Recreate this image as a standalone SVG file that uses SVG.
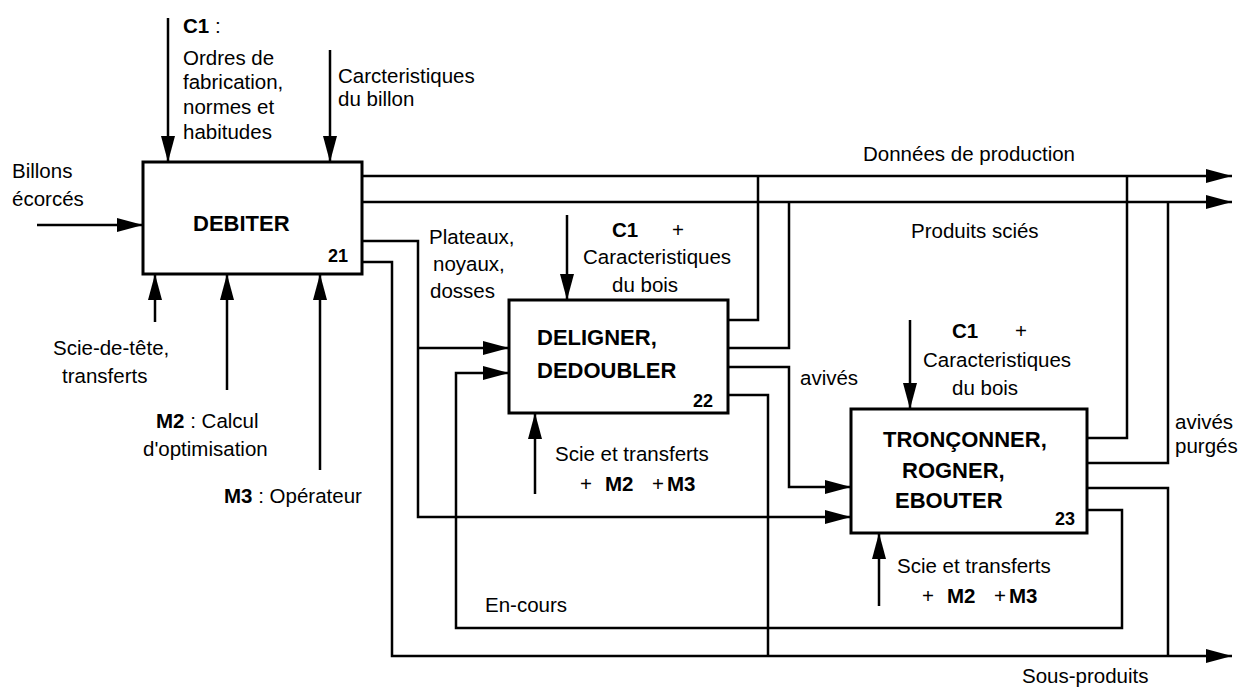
<svg xmlns="http://www.w3.org/2000/svg" width="1251" height="689" viewBox="0 0 1251 689">
<style>
.box{fill:#fff;stroke:#000;stroke-width:3}
.ln{fill:none;stroke:#000;stroke-width:2.5}
text{font-family:"Liberation Sans",Arial,sans-serif;font-size:20.5px;fill:#000}
.b{font-weight:bold}
.t{font-weight:bold;font-size:22px}
.n{font-weight:bold;font-size:18px}
</style>
<defs>
<marker id="ah" markerUnits="userSpaceOnUse" markerWidth="26" markerHeight="14" refX="26" refY="7" orient="auto">
<path d="M0,0 L26,7 L0,14 z" fill="#000"/>
</marker>
</defs>
<rect width="1251" height="689" fill="#fff"/>
<g id="connectors">
<path class="ln" d="M168,18 V162" marker-end="url(#ah)"/>
<path class="ln" d="M330,50 V162" marker-end="url(#ah)"/>
<path class="ln" d="M37,225 H143" marker-end="url(#ah)"/>
<path class="ln" d="M155,322 V274" marker-end="url(#ah)"/>
<path class="ln" d="M227,390 V274" marker-end="url(#ah)"/>
<path class="ln" d="M320,470 V274" marker-end="url(#ah)"/>
<path class="ln" d="M362,176 H1232" marker-end="url(#ah)"/>
<path class="ln" d="M362,202 H1232" marker-end="url(#ah)"/>
<path class="ln" d="M362,241 H418 V517 H851" marker-end="url(#ah)"/>
<path class="ln" d="M418,348 H509" marker-end="url(#ah)"/>
<path class="ln" d="M362,262 H392 V656 H1232" marker-end="url(#ah)"/>
<path class="ln" d="M567,215 V300" marker-end="url(#ah)"/>
<path class="ln" d="M535,494 V413" marker-end="url(#ah)"/>
<path class="ln" d="M728,320 H758 V176"/>
<path class="ln" d="M728,348 H789 V202"/>
<path class="ln" d="M728,367 H789 V487 H851" marker-end="url(#ah)"/>
<path class="ln" d="M728,395 H768 V656"/>
<path class="ln" d="M1087,510 H1122 V628 H456 V373 H509" marker-end="url(#ah)"/>
<path class="ln" d="M910,320 V409" marker-end="url(#ah)"/>
<path class="ln" d="M879,606 V533" marker-end="url(#ah)"/>
<path class="ln" d="M1087,438 H1127 V176"/>
<path class="ln" d="M1087,463 H1168 V202"/>
<path class="ln" d="M1087,488 H1168 V656"/>
</g>
<g id="debiter">
<rect class="box" x="143" y="162" width="219" height="112"/>
<text class="t" x="193" y="231">DEBITER</text>
<text class="n" x="348" y="262" text-anchor="end">21</text>
</g>
<g id="deligner">
<rect class="box" x="509" y="300" width="219" height="113"/>
<text class="t" x="537" y="345">DELIGNER,</text>
<text class="t" x="537" y="378">DEDOUBLER</text>
<text class="n" x="713" y="407" text-anchor="end">22</text>
</g>
<g id="tronconner">
<rect class="box" x="851" y="409" width="236" height="124"/>
<text class="t" x="883" y="447">TRONÇONNER,</text>
<text class="t" x="902" y="478">ROGNER,</text>
<text class="t" x="895" y="508">EBOUTER</text>
<text class="n" x="1075" y="525" text-anchor="end">23</text>
</g>
<g id="labels">
<text x="183" y="33"><tspan class="b">C1</tspan> :</text>
<text x="183" y="65">Ordres de</text>
<text x="183" y="89">fabrication,</text>
<text x="183" y="114">normes et</text>
<text x="183" y="139">habitudes</text>
<text x="338" y="83">Carcteristiques</text>
<text x="338" y="106">du billon</text>
<text x="12" y="178">Billons</text>
<text x="12" y="206">écorcés</text>
<text x="53" y="355">Scie-de-tête,</text>
<text x="62" y="383">transferts</text>
<text x="156" y="428"><tspan class="b">M2</tspan> : Calcul</text>
<text x="143" y="456">d'optimisation</text>
<text x="224" y="503"><tspan class="b">M3</tspan> : Opérateur</text>
<text x="429" y="244">Plateaux,</text>
<text x="433" y="271">noyaux,</text>
<text x="430" y="298">dosses</text>
<text x="612" y="237"><tspan class="b">C1</tspan></text>
<text x="672" y="237">+</text>
<text x="583" y="264">Caracteristiques</text>
<text x="612" y="292">du bois</text>
<text x="555" y="461">Scie et transferts</text>
<text x="580" y="491">+</text>
<text class="b" x="605" y="491">M2</text>
<text x="652" y="491">+</text>
<text class="b" x="667" y="491">M3</text>
<text x="800" y="385">avivés</text>
<text x="863" y="161">Données de production</text>
<text x="911" y="238">Produits sciés</text>
<text x="952" y="338"><tspan class="b">C1</tspan></text>
<text x="1015" y="338">+</text>
<text x="923" y="367">Caracteristiques</text>
<text x="952" y="395">du bois</text>
<text x="897" y="573">Scie et transferts</text>
<text x="922" y="603">+</text>
<text class="b" x="947" y="603">M2</text>
<text x="994" y="603">+</text>
<text class="b" x="1009" y="603">M3</text>
<text x="1175" y="429">avivés</text>
<text x="1175" y="453">purgés</text>
<text x="485" y="612">En-cours</text>
<text x="1022" y="683">Sous-produits</text>
</g>
</svg>
